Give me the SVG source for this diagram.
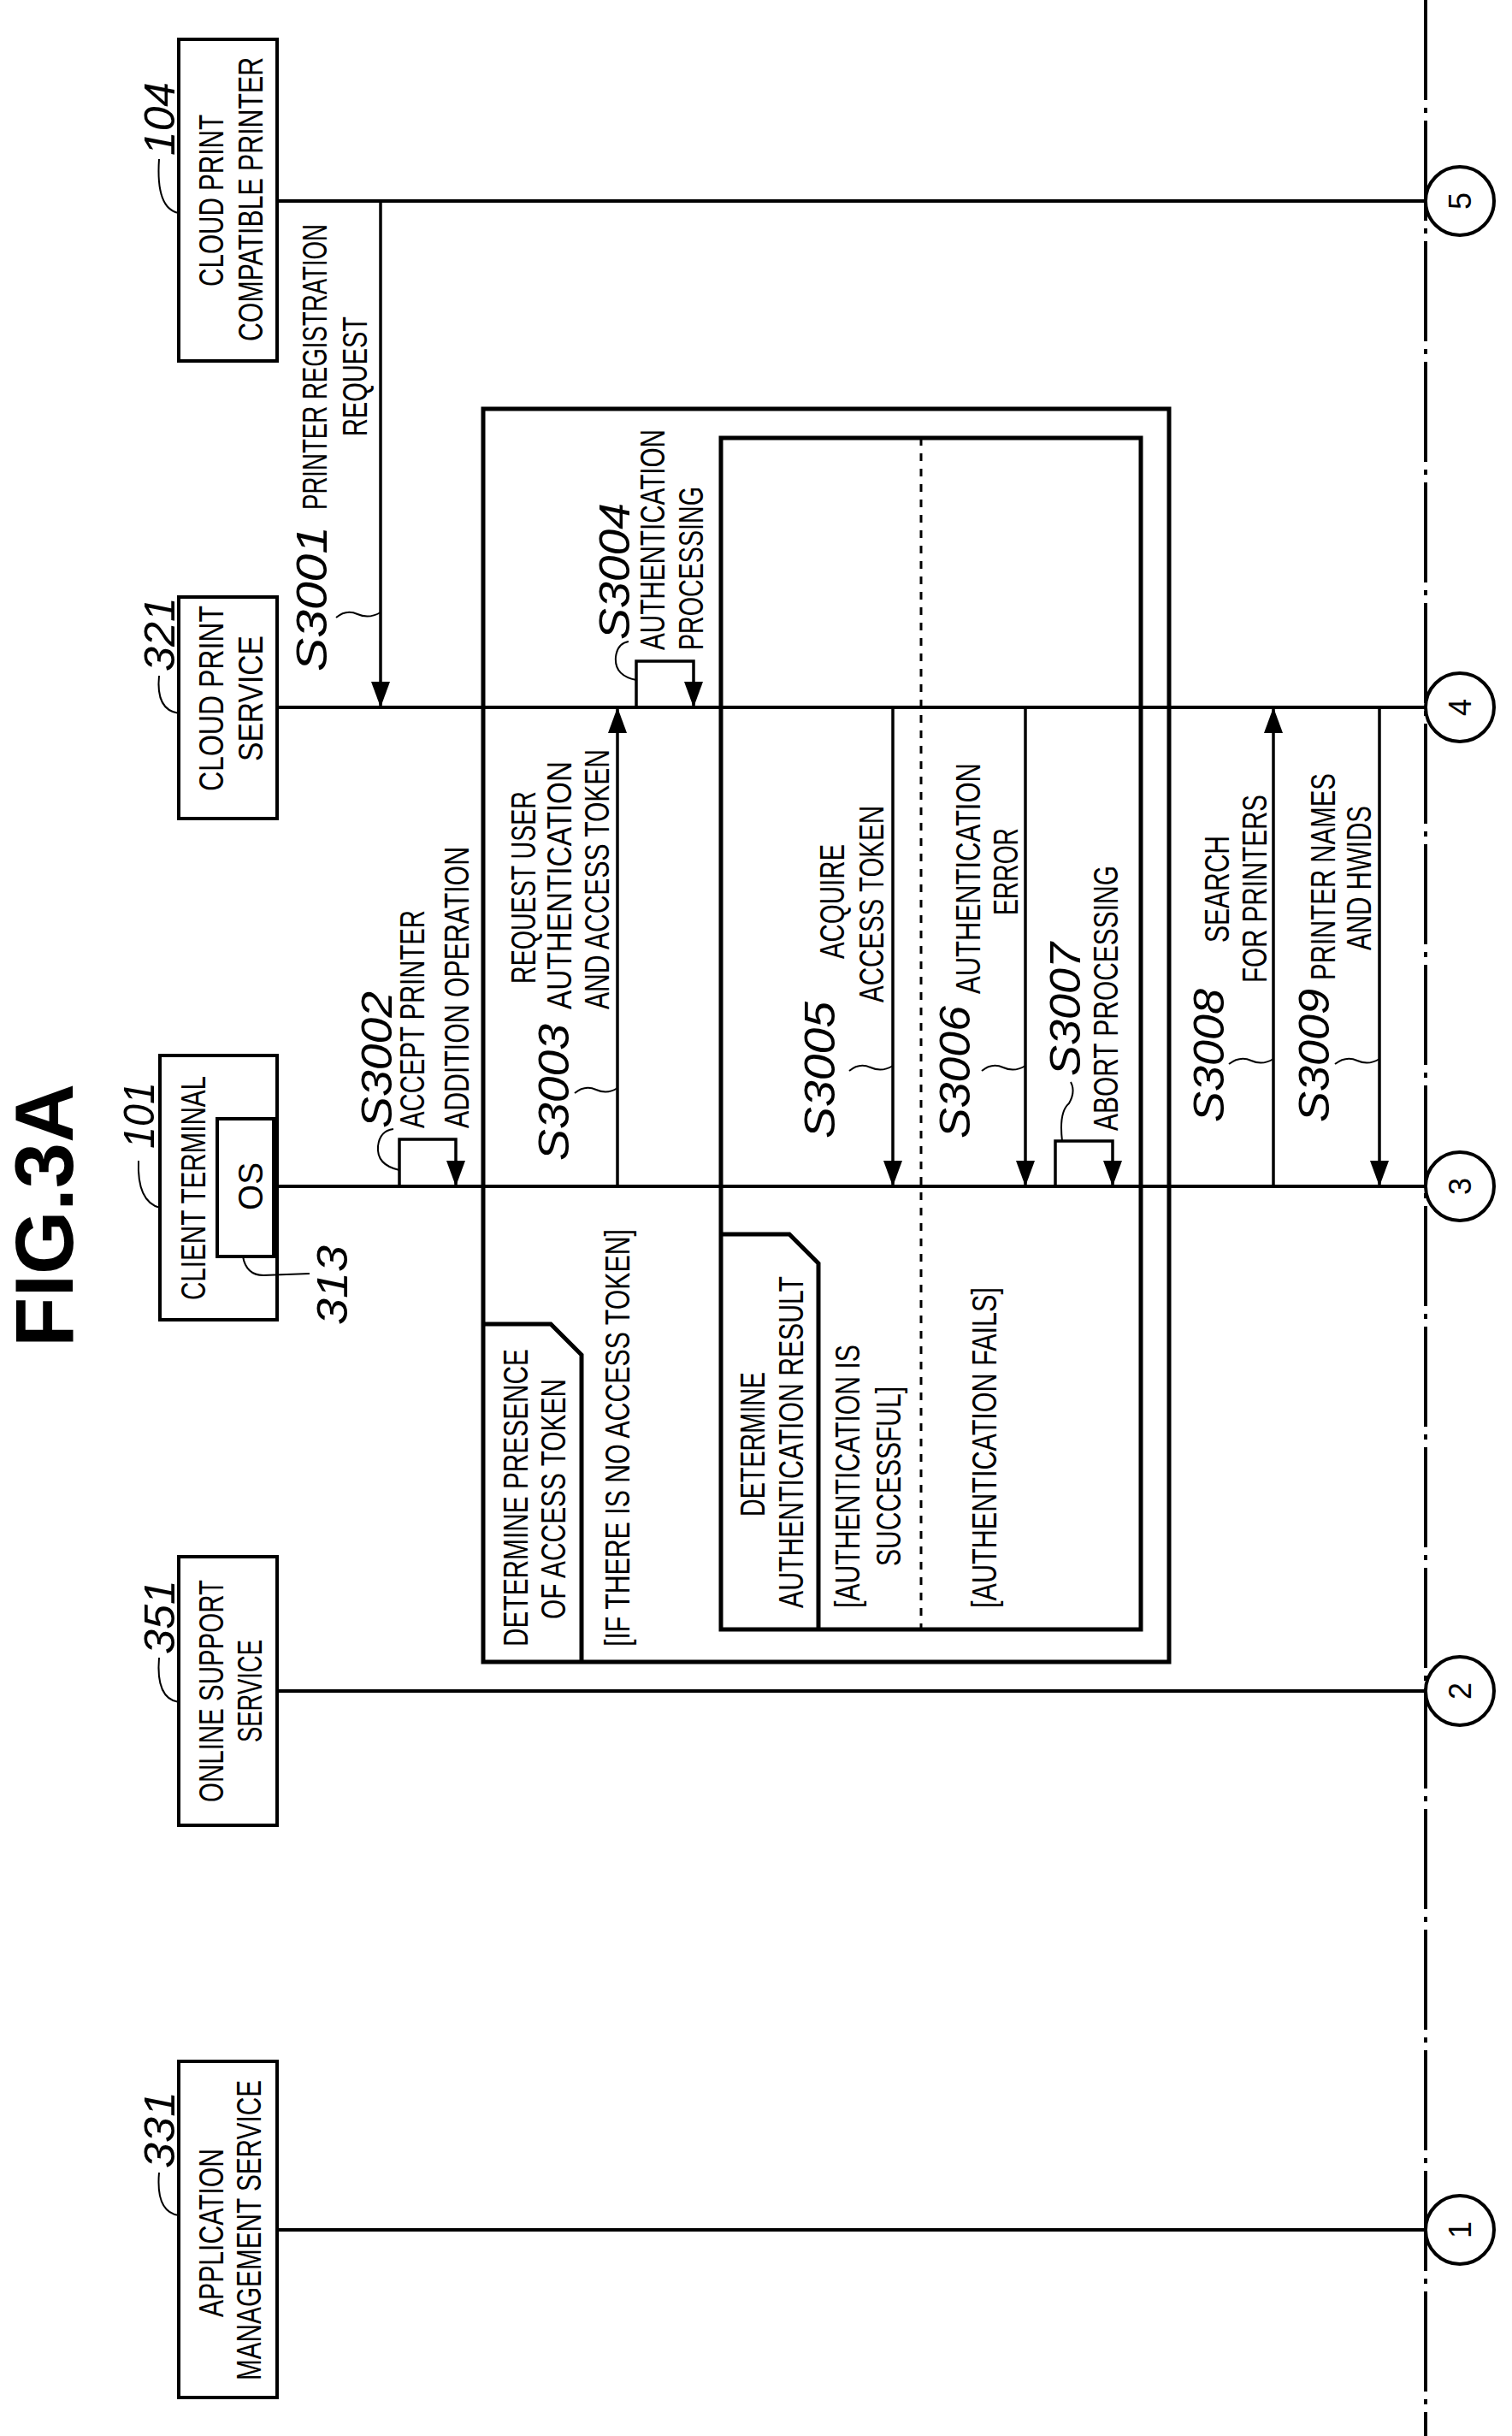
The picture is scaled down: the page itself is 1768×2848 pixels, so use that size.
<svg xmlns="http://www.w3.org/2000/svg" width="1768" height="2848" viewBox="0 0 1768 2848">
<style>
.ln{stroke:#000;stroke-width:4;fill:none}
.fr{stroke:#000;stroke-width:5;fill:none}
.ld{stroke:#000;stroke-width:2;fill:none}
.msg{stroke:#000;stroke-width:3.5;fill:none}
text{font-family:"Liberation Sans","DejaVu Sans",sans-serif;fill:#000}
.t{font-size:40px}
.n{font-size:50px;font-style:italic}
.c{font-size:36px}
</style>
<defs>
<marker id="ah" markerUnits="userSpaceOnUse" markerWidth="30" markerHeight="22" refX="30" refY="11" orient="auto">
<path d="M0,0 L30,11 L0,22 z" fill="#000"/>
</marker>
</defs>
<rect width="1768" height="2848" fill="#fff"/>
<text transform="translate(85,1575) rotate(-90)" font-size="96" font-weight="bold" textLength="308" lengthAdjust="spacingAndGlyphs">FIG.3A</text>
<line x1="1667" y1="0" x2="1667" y2="2848" stroke="#000" stroke-width="4" stroke-dasharray="117 9 6 9"/>
<g id="lifelines">
<line class="ln" x1="324" y1="235" x2="1667" y2="235"/>
<line class="ln" x1="324" y1="827" x2="1667" y2="827"/>
<line class="ln" x1="324" y1="1387" x2="1667" y2="1387"/>
<line class="ln" x1="324" y1="1977" x2="1667" y2="1977"/>
<line class="ln" x1="324" y1="2607" x2="1667" y2="2607"/>
</g>
<g id="node104">
<rect class="ln" x="209" y="46" width="115" height="376" fill="#fff"/>
<text class="t" transform="translate(261,335) rotate(-90)" textLength="201" lengthAdjust="spacingAndGlyphs">CLOUD PRINT</text>
<text class="t" transform="translate(307,399) rotate(-90)" textLength="332" lengthAdjust="spacingAndGlyphs">COMPATIBLE PRINTER</text>
<text class="n" transform="translate(204,182) rotate(-90)" textLength="86" lengthAdjust="spacingAndGlyphs">104</text>
<path class="ld" d="M186,186 Q182,244 209,249"/>
</g>
<g id="node321">
<rect class="ln" x="209" y="698" width="115" height="259" fill="#fff"/>
<text class="t" transform="translate(261,925) rotate(-90)" textLength="217" lengthAdjust="spacingAndGlyphs">CLOUD PRINT</text>
<text class="t" transform="translate(307,890) rotate(-90)" textLength="147" lengthAdjust="spacingAndGlyphs">SERVICE</text>
<text class="n" transform="translate(204,785) rotate(-90)" textLength="87" lengthAdjust="spacingAndGlyphs">321</text>
<path class="ld" d="M186,790 Q182,830 209,834"/>
</g>
<g id="node101">
<rect class="ln" x="187" y="1234" width="137" height="309" fill="#fff"/>
<rect class="ln" x="254" y="1308" width="66" height="161" fill="#fff"/>
<text class="t" transform="translate(240,1520) rotate(-90)" textLength="262" lengthAdjust="spacingAndGlyphs">CLIENT TERMINAL</text>
<text class="t" transform="translate(307,1415) rotate(-90)" textLength="56" lengthAdjust="spacingAndGlyphs">OS</text>
<text class="n" transform="translate(180,1343) rotate(-90)" textLength="78" lengthAdjust="spacingAndGlyphs">101</text>
<path class="ld" d="M162,1357 Q160,1405 187,1412"/>
<text class="n" transform="translate(406,1549) rotate(-90)" textLength="93" lengthAdjust="spacingAndGlyphs">313</text>
<path class="ld" d="M284,1469 Q288,1491 308,1491 L362,1489"/>
</g>
<g id="node351">
<rect class="ln" x="209" y="1820" width="115" height="314" fill="#fff"/>
<text class="t" transform="translate(261,2107) rotate(-90)" textLength="260" lengthAdjust="spacingAndGlyphs">ONLINE SUPPORT</text>
<text class="t" transform="translate(306,2037) rotate(-90)" textLength="120" lengthAdjust="spacingAndGlyphs">SERVICE</text>
<text class="n" transform="translate(204,1934) rotate(-90)" textLength="87" lengthAdjust="spacingAndGlyphs">351</text>
<path class="ld" d="M186,1938 Q182,1986 209,1990"/>
</g>
<g id="node331">
<rect class="ln" x="209" y="2410" width="115" height="393" fill="#fff"/>
<text class="t" transform="translate(261,2709) rotate(-90)" textLength="197" lengthAdjust="spacingAndGlyphs">APPLICATION</text>
<text class="t" transform="translate(305,2783) rotate(-90)" textLength="351" lengthAdjust="spacingAndGlyphs">MANAGEMENT SERVICE</text>
<text class="n" transform="translate(204,2535) rotate(-90)" textLength="90" lengthAdjust="spacingAndGlyphs">331</text>
<path class="ld" d="M186,2540 Q182,2586 209,2590"/>
</g>
<g id="circles">
<circle class="ln" cx="1707" cy="235" r="40" fill="#fff"/>
<circle class="ln" cx="1707" cy="827" r="40" fill="#fff"/>
<circle class="ln" cx="1707" cy="1387" r="40" fill="#fff"/>
<circle class="ln" cx="1707" cy="1977" r="40" fill="#fff"/>
<circle class="ln" cx="1707" cy="2607" r="40" fill="#fff"/>
<text class="c" transform="translate(1720,235) rotate(-90)" text-anchor="middle">5</text>
<text class="c" transform="translate(1720,827) rotate(-90)" text-anchor="middle">4</text>
<text class="c" transform="translate(1720,1387) rotate(-90)" text-anchor="middle">3</text>
<text class="c" transform="translate(1720,1977) rotate(-90)" text-anchor="middle">2</text>
<text class="c" transform="translate(1720,2607) rotate(-90)" text-anchor="middle">1</text>
</g>
<g id="frame-outer">
<rect class="fr" x="565" y="478" width="802" height="1465"/>
<path class="fr" d="M565,1548 L644,1548 L680,1584 L680,1943"/>
<text class="t" transform="translate(617,1925) rotate(-90)" textLength="348" lengthAdjust="spacingAndGlyphs">DETERMINE PRESENCE</text>
<text class="t" transform="translate(661,1893) rotate(-90)" textLength="281" lengthAdjust="spacingAndGlyphs">OF ACCESS TOKEN</text>
<text class="t" transform="translate(736,1925) rotate(-90)" textLength="488" lengthAdjust="spacingAndGlyphs">[IF THERE IS NO ACCESS TOKEN]</text>
</g>
<g id="frame-inner">
<rect class="fr" x="843" y="512" width="491" height="1393"/>
<path class="fr" d="M843,1443 L923,1443 L957,1477 L957,1905"/>
<line x1="1077" y1="512" x2="1077" y2="1905" stroke="#000" stroke-width="3" stroke-dasharray="9 9"/>
<text class="t" transform="translate(894,1773) rotate(-90)" textLength="169" lengthAdjust="spacingAndGlyphs">DETERMINE</text>
<text class="t" transform="translate(939,1880) rotate(-90)" textLength="388" lengthAdjust="spacingAndGlyphs">AUTHENTICATION RESULT</text>
<text class="t" transform="translate(1005,1880) rotate(-90)" textLength="308" lengthAdjust="spacingAndGlyphs">[AUTHENTICATION IS</text>
<text class="t" transform="translate(1053,1831) rotate(-90)" textLength="210" lengthAdjust="spacingAndGlyphs">SUCCESSFUL]</text>
<text class="t" transform="translate(1165,1880) rotate(-90)" textLength="375" lengthAdjust="spacingAndGlyphs">[AUTHENTICATION FAILS]</text>
</g>
<g id="connectors">
<line class="msg" x1="445" y1="235" x2="445" y2="827" marker-end="url(#ah)"/>
<path class="msg" d="M467,1387 L467,1332 L533,1332 L533,1387" marker-end="url(#ah)"/>
<line class="msg" x1="722" y1="1387" x2="722" y2="827" marker-end="url(#ah)"/>
<path class="msg" d="M744,827 L744,773 L811,773 L811,827" marker-end="url(#ah)"/>
<line class="msg" x1="1044" y1="827" x2="1044" y2="1387" marker-end="url(#ah)"/>
<line class="msg" x1="1199" y1="827" x2="1199" y2="1387" marker-end="url(#ah)"/>
<path class="msg" d="M1234,1387 L1234,1334 L1301,1334 L1301,1387" marker-end="url(#ah)"/>
<line class="msg" x1="1489" y1="1387" x2="1489" y2="827" marker-end="url(#ah)"/>
<line class="msg" x1="1613" y1="827" x2="1613" y2="1387" marker-end="url(#ah)"/>
</g>
<g id="labels">
<text class="n" transform="translate(382,785) rotate(-90)" textLength="170" lengthAdjust="spacingAndGlyphs">S3001</text>
<text class="t" transform="translate(382,596) rotate(-90)" textLength="334" lengthAdjust="spacingAndGlyphs">PRINTER REGISTRATION</text>
<text class="t" transform="translate(429,510) rotate(-90)" textLength="140" lengthAdjust="spacingAndGlyphs">REQUEST</text>
<path class="ld" d="M393,722 Q405,712 418,718 T445,716"/>
<text class="n" transform="translate(458,1319) rotate(-90)" textLength="160" lengthAdjust="spacingAndGlyphs">S3002</text>
<text class="t" transform="translate(496,1319) rotate(-90)" textLength="255" lengthAdjust="spacingAndGlyphs">ACCEPT PRINTER</text>
<text class="t" transform="translate(548,1319) rotate(-90)" textLength="329" lengthAdjust="spacingAndGlyphs">ADDITION OPERATION</text>
<path class="ld" d="M467,1368 Q440,1362 442,1340 Q444,1322 460,1320"/>
<text class="n" transform="translate(665,1357) rotate(-90)" textLength="160" lengthAdjust="spacingAndGlyphs">S3003</text>
<text class="t" transform="translate(626,1150) rotate(-90)" textLength="225" lengthAdjust="spacingAndGlyphs">REQUEST USER</text>
<text class="t" transform="translate(668,1180) rotate(-90)" textLength="290" lengthAdjust="spacingAndGlyphs">AUTHENTICATION</text>
<text class="t" transform="translate(712,1180) rotate(-90)" textLength="304" lengthAdjust="spacingAndGlyphs">AND ACCESS TOKEN</text>
<path class="ld" d="M672,1278 Q684,1268 697,1274 T722,1272"/>
<text class="n" transform="translate(736,748) rotate(-90)" textLength="160" lengthAdjust="spacingAndGlyphs">S3004</text>
<text class="t" transform="translate(777,760) rotate(-90)" textLength="258" lengthAdjust="spacingAndGlyphs">AUTHENTICATION</text>
<text class="t" transform="translate(822,760) rotate(-90)" textLength="191" lengthAdjust="spacingAndGlyphs">PROCESSING</text>
<path class="ld" d="M744,795 Q718,790 720,768 Q722,752 735,750"/>
<text class="n" transform="translate(976,1331) rotate(-90)" textLength="160" lengthAdjust="spacingAndGlyphs">S3005</text>
<text class="t" transform="translate(987,1121) rotate(-90)" textLength="134" lengthAdjust="spacingAndGlyphs">ACQUIRE</text>
<text class="t" transform="translate(1033,1172) rotate(-90)" textLength="230" lengthAdjust="spacingAndGlyphs">ACCESS TOKEN</text>
<path class="ld" d="M993,1252 Q1005,1242 1018,1248 T1044,1246"/>
<text class="n" transform="translate(1134,1331) rotate(-90)" textLength="155" lengthAdjust="spacingAndGlyphs">S3006</text>
<text class="t" transform="translate(1146,1162) rotate(-90)" textLength="270" lengthAdjust="spacingAndGlyphs">AUTHENTICATION</text>
<text class="t" transform="translate(1190,1070) rotate(-90)" textLength="102" lengthAdjust="spacingAndGlyphs">ERROR</text>
<path class="ld" d="M1148,1252 Q1160,1242 1173,1248 T1199,1246"/>
<text class="n" transform="translate(1263,1258) rotate(-90)" textLength="156" lengthAdjust="spacingAndGlyphs">S3007</text>
<text class="t" transform="translate(1307,1322) rotate(-90)" textLength="310" lengthAdjust="spacingAndGlyphs">ABORT PROCESSING</text>
<path class="ld" d="M1242,1334 Q1238,1300 1250,1290 Q1258,1276 1252,1265"/>
<text class="n" transform="translate(1431,1312) rotate(-90)" textLength="156" lengthAdjust="spacingAndGlyphs">S3008</text>
<text class="t" transform="translate(1437,1102) rotate(-90)" textLength="125" lengthAdjust="spacingAndGlyphs">SEARCH</text>
<text class="t" transform="translate(1481,1149) rotate(-90)" textLength="220" lengthAdjust="spacingAndGlyphs">FOR PRINTERS</text>
<path class="ld" d="M1437,1244 Q1450,1234 1463,1240 T1489,1238"/>
<text class="n" transform="translate(1554,1312) rotate(-90)" textLength="156" lengthAdjust="spacingAndGlyphs">S3009</text>
<text class="t" transform="translate(1561,1146) rotate(-90)" textLength="242" lengthAdjust="spacingAndGlyphs">PRINTER NAMES</text>
<text class="t" transform="translate(1603,1111) rotate(-90)" textLength="169" lengthAdjust="spacingAndGlyphs">AND HWIDS</text>
<path class="ld" d="M1561,1244 Q1574,1234 1587,1240 T1613,1238"/>
</g>
</svg>
